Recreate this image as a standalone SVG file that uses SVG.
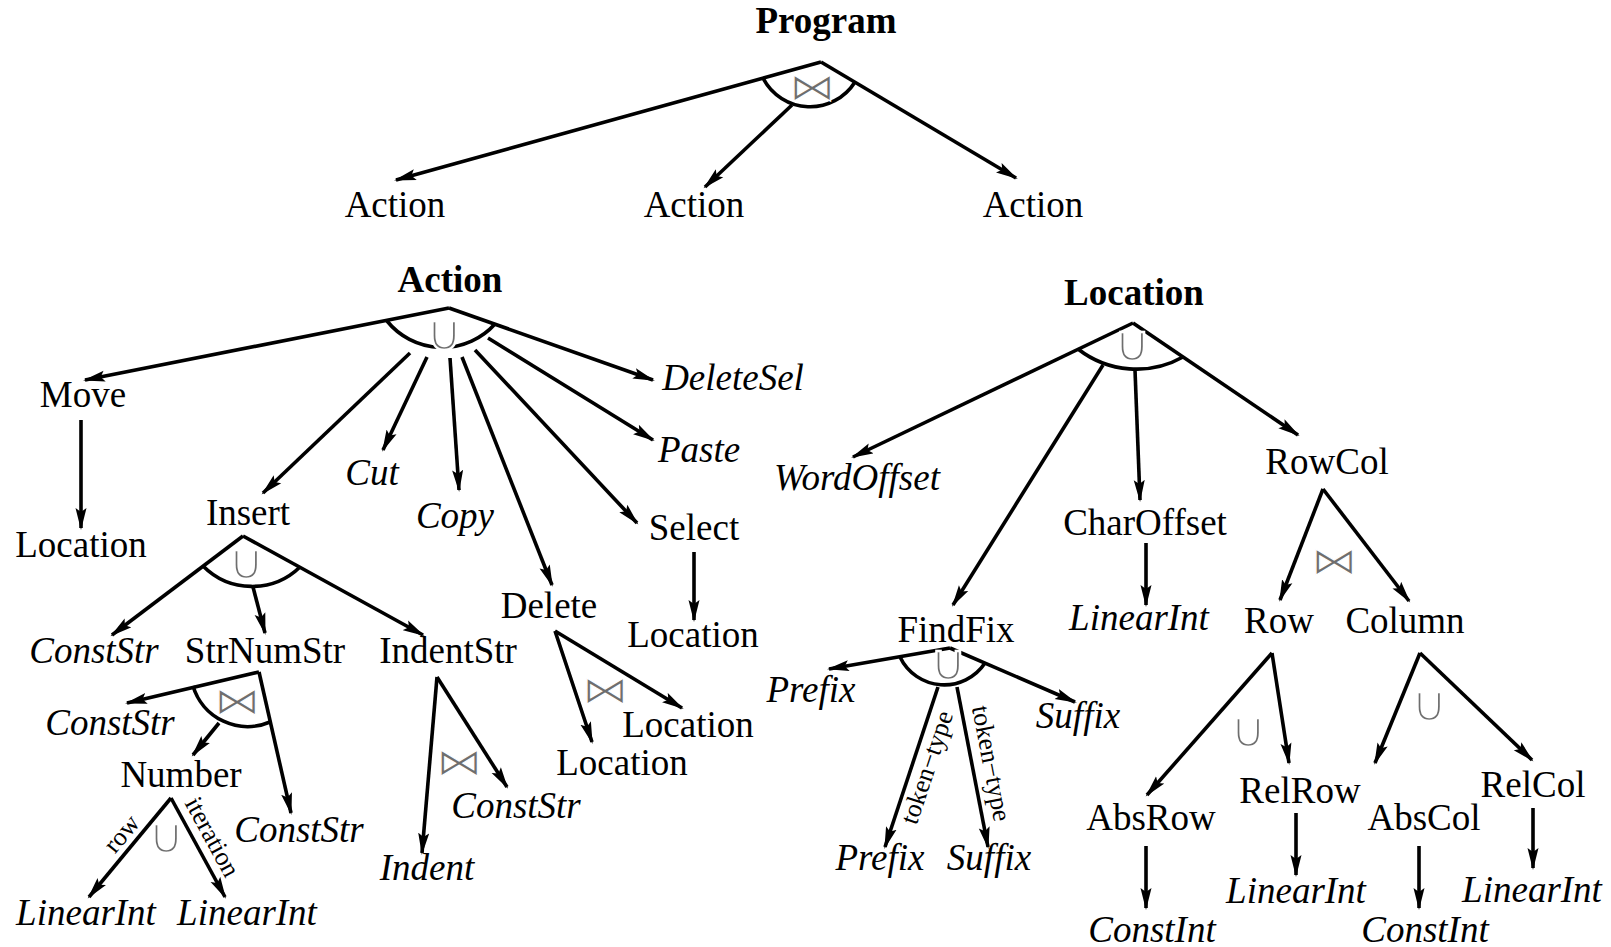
<svg xmlns="http://www.w3.org/2000/svg" width="1611" height="947" viewBox="0 0 1611 947">
  <style>
    text { font-family: "Liberation Serif", "Times New Roman", serif; font-size: 37px; fill: #000; text-anchor: middle; }
    .b { font-weight: bold; }
    .i { font-style: italic; }
    .lbl { font-size: 26px; }
    .op { font-family: "DejaVu Sans", sans-serif; fill: #6e6e6e; stroke: #fff; }
    .cup { font-size: 50px; stroke-width: 2.4; }
    .bow { font-size: 42px; stroke-width: 1.2; }
    .edge { stroke: #000; stroke-width: 3.6; fill: none; marker-end: url(#ah); }
    .arc { stroke: #000; stroke-width: 3.6; fill: none; }
  </style>
  <defs>
    <marker id="ah" markerUnits="userSpaceOnUse" markerWidth="24" markerHeight="12" refX="20" refY="6" orient="auto">
      <path d="M0,0.5 L22,6 L0,11.5 L4,6 z" fill="#000"/>
    </marker>
  </defs>
  <rect width="1611" height="947" fill="#fff"/>

  <!-- connectors -->
  <g id="connectors">
    <!-- Program -->
    <line class="edge" x1="821" y1="62" x2="396" y2="180"/>
    <line class="edge" x1="792" y1="105" x2="705" y2="187"/>
    <line class="edge" x1="821" y1="62" x2="1016" y2="178"/>
    <!-- Action -->
    <line class="edge" x1="449" y1="308" x2="85" y2="380"/>
    <line class="edge" x1="449" y1="308" x2="653" y2="380"/>
    <line class="edge" x1="410" y1="353" x2="263" y2="493"/>
    <line class="edge" x1="427" y1="357" x2="383" y2="450"/>
    <line class="edge" x1="450" y1="358" x2="459" y2="490"/>
    <line class="edge" x1="462" y1="357" x2="552" y2="585"/>
    <line class="edge" x1="475" y1="350" x2="637" y2="523"/>
    <line class="edge" x1="488" y1="338" x2="653" y2="440"/>
    <line class="edge" x1="81" y1="420" x2="81" y2="528"/>
    <line class="edge" x1="694" y1="552" x2="694" y2="620"/>
    <!-- Insert -->
    <line class="edge" x1="243" y1="536" x2="112" y2="635"/>
    <line class="edge" x1="253" y1="587" x2="265" y2="633"/>
    <line class="edge" x1="243" y1="536" x2="423" y2="635"/>
    <!-- StrNumStr -->
    <line class="edge" x1="259" y1="672" x2="127" y2="703"/>
    <line class="edge" x1="219" y1="723" x2="193" y2="755"/>
    <line class="edge" x1="259" y1="672" x2="291" y2="813"/>
    <!-- Number -->
    <line class="edge" x1="171" y1="798" x2="89" y2="897"/>
    <line class="edge" x1="171" y1="798" x2="225" y2="897"/>
    <!-- IndentStr -->
    <line class="edge" x1="437" y1="677" x2="422" y2="853"/>
    <line class="edge" x1="437" y1="677" x2="507" y2="787"/>
    <!-- Delete -->
    <line class="edge" x1="555" y1="631" x2="592" y2="742"/>
    <line class="edge" x1="555" y1="631" x2="682" y2="708"/>
    <!-- Location -->
    <line class="edge" x1="1133" y1="323" x2="853" y2="457"/>
    <line class="edge" x1="1133" y1="323" x2="1298" y2="435"/>
    <line class="edge" x1="1103" y1="365" x2="953" y2="605"/>
    <line class="edge" x1="1135" y1="370" x2="1140" y2="500"/>
    <line class="edge" x1="1146" y1="543" x2="1146" y2="605"/>
    <!-- FindFix -->
    <line class="edge" x1="950" y1="648" x2="829" y2="669"/>
    <line class="edge" x1="950" y1="648" x2="1075" y2="702"/>
    <line class="edge" x1="938" y1="687" x2="885" y2="847"/>
    <line class="edge" x1="957" y1="687" x2="988" y2="847"/>
    <!-- RowCol -->
    <line class="edge" x1="1323" y1="489" x2="1280" y2="600"/>
    <line class="edge" x1="1323" y1="489" x2="1409" y2="601"/>
    <!-- Row / Column -->
    <line class="edge" x1="1272" y1="653" x2="1147" y2="795"/>
    <line class="edge" x1="1272" y1="653" x2="1289" y2="763"/>
    <line class="edge" x1="1420" y1="653" x2="1375" y2="763"/>
    <line class="edge" x1="1420" y1="653" x2="1532" y2="760"/>
    <!-- leaves -->
    <line class="edge" x1="1146" y1="846" x2="1146" y2="908"/>
    <line class="edge" x1="1296" y1="813" x2="1296" y2="875"/>
    <line class="edge" x1="1419" y1="846" x2="1419" y2="908"/>
    <line class="edge" x1="1533" y1="808" x2="1533" y2="868"/>

    <!-- edge labels -->
    <text class="lbl" transform="translate(128,839) rotate(-50.4)">row</text>
    <text class="lbl" transform="translate(205,841) rotate(61.4)">iteration</text>
    <text class="lbl" transform="translate(935,770) rotate(-71.7)">token−type</text>
    <text class="lbl" transform="translate(983,765) rotate(79)">token−type</text>
  </g>

  <!-- operator arcs and symbols -->
  <g id="operators">
    <path class="arc" d="M763,78 A53,53 0 0 0 855,82"/>
    <text class="op bow" transform="translate(812,100) scale(1.1,0.9)">⋈</text>
    <path class="arc" d="M387,321 A71,71 0 0 0 495,324"/>
    <text class="op cup" x="444" y="350">∪</text>
    <path class="arc" d="M203,566 A69,69 0 0 0 300,567"/>
    <text class="op cup" x="246" y="579">∪</text>
    <path class="arc" d="M193,686 A57,57 0 0 0 270,722"/>
    <text class="op bow" transform="translate(237,714) scale(1.1,0.9)">⋈</text>
    <text class="op cup" x="166" y="853">∪</text>
    <text class="op bow" transform="translate(459,775) scale(1.1,0.9)">⋈</text>
    <text class="op bow" transform="translate(605,703) scale(1.1,0.9)">⋈</text>
    <path class="arc" d="M1078,349 A95,95 0 0 0 1183,357"/>
    <text class="op cup" x="1132" y="361">∪</text>
    <path class="arc" d="M900,657 A49,49 0 0 0 985,663"/>
    <text class="op cup" x="948" y="680">∪</text>
    <text class="op bow" transform="translate(1334,574) scale(1.1,0.9)">⋈</text>
    <text class="op cup" x="1248" y="747">∪</text>
    <text class="op cup" x="1429" y="721">∪</text>
  </g>

  <!-- nodes -->
  <g id="program"><text class="b" x="826" y="33">Program</text></g>
  <g id="action-1"><text x="395" y="217">Action</text></g>
  <g id="action-2"><text x="694" y="217">Action</text></g>
  <g id="action-3"><text x="1033" y="217">Action</text></g>

  <g id="action"><text class="b" x="450" y="292">Action</text></g>
  <g id="move"><text x="83" y="407">Move</text></g>
  <g id="move-location"><text x="81" y="557">Location</text></g>
  <g id="insert"><text x="248" y="525">Insert</text></g>
  <g id="cut"><text class="i" x="372" y="485">Cut</text></g>
  <g id="copy"><text class="i" x="455" y="528">Copy</text></g>
  <g id="delete"><text x="549" y="618">Delete</text></g>
  <g id="select"><text x="694" y="540">Select</text></g>
  <g id="paste"><text class="i" x="699" y="462">Paste</text></g>
  <g id="deletesel"><text class="i" x="733" y="390">DeleteSel</text></g>
  <g id="select-location"><text x="693" y="647">Location</text></g>
  <g id="delete-location-1"><text x="688" y="737">Location</text></g>
  <g id="delete-location-2"><text x="622" y="775">Location</text></g>

  <g id="insert-conststr"><text class="i" x="94" y="663">ConstStr</text></g>
  <g id="strnumstr"><text x="265" y="663">StrNumStr</text></g>
  <g id="indentstr"><text x="448" y="663">IndentStr</text></g>
  <g id="sns-conststr-1"><text class="i" x="110" y="735">ConstStr</text></g>
  <g id="number"><text x="181" y="787">Number</text></g>
  <g id="sns-conststr-2"><text class="i" x="299" y="842">ConstStr</text></g>
  <g id="number-row"><text class="i" x="86" y="925">LinearInt</text></g>
  <g id="number-iter"><text class="i" x="247" y="925">LinearInt</text></g>
  <g id="indent"><text class="i" x="427" y="880">Indent</text></g>
  <g id="indent-conststr"><text class="i" x="516" y="818">ConstStr</text></g>

  <g id="location"><text class="b" x="1134" y="305">Location</text></g>
  <g id="wordoffset"><text class="i" x="857" y="490">WordOffset</text></g>
  <g id="findfix"><text x="956" y="642">FindFix</text></g>
  <g id="charoffset"><text x="1145" y="535">CharOffset</text></g>
  <g id="rowcol"><text x="1327" y="474">RowCol</text></g>
  <g id="charoffset-linearint"><text class="i" x="1139" y="630">LinearInt</text></g>
  <g id="prefix-1"><text class="i" x="811" y="702">Prefix</text></g>
  <g id="suffix-1"><text class="i" x="1078" y="728">Suffix</text></g>
  <g id="prefix-2"><text class="i" x="880" y="870">Prefix</text></g>
  <g id="suffix-2"><text class="i" x="989" y="870">Suffix</text></g>
  <g id="row"><text x="1279" y="633">Row</text></g>
  <g id="column"><text x="1405" y="633">Column</text></g>
  <g id="absrow"><text x="1151" y="830">AbsRow</text></g>
  <g id="relrow"><text x="1300" y="803">RelRow</text></g>
  <g id="abscol"><text x="1424" y="830">AbsCol</text></g>
  <g id="relcol"><text x="1533" y="797">RelCol</text></g>
  <g id="absrow-constint"><text class="i" x="1152" y="942">ConstInt</text></g>
  <g id="relrow-linearint"><text class="i" x="1296" y="903">LinearInt</text></g>
  <g id="abscol-constint"><text class="i" x="1425" y="942">ConstInt</text></g>
  <g id="relcol-linearint"><text class="i" x="1532" y="902">LinearInt</text></g>
</svg>
